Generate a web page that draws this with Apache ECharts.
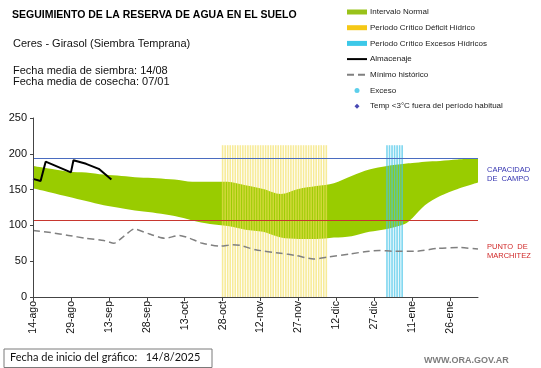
<!DOCTYPE html>
<html>
<head>
<meta charset="utf-8">
<script src="https://cdn.jsdelivr.net/npm/echarts@6/dist/echarts.min.js"></script>
<style>html,body{margin:0;padding:0;background:#fff;}#c{width:541px;height:368px;}</style>
</head>
<body>
<div id="c"></div>
<script>
// ---- Data (day index from 14-ago-2025) ----
const tickDays = [0, 15, 30, 45, 60, 75, 90, 105, 120, 135, 150, 165];
const tickLabels = ['14-ago','29-ago','13-sep','28-sep','13-oct','28-oct','12-nov','27-nov','12-dic','27-dic','11-ene','26-ene'];

const bandDays  = [0, 7, 14, 21, 28, 35, 42, 49, 56, 63, 70, 77, 84, 91, 98, 105, 112, 119, 126, 133, 140, 147, 150, 155, 161, 168, 176];
const bandUpper = [183, 179, 175, 174, 171, 169, 167, 166, 164, 161, 161, 161, 156, 151, 144, 151, 155, 159, 169, 178, 183, 186, 187, 189, 190, 192, 194];
const bandLower = [152, 146, 140, 134, 128, 124, 120, 117, 113, 107, 102, 99, 94, 91, 83, 81, 81, 83, 85, 91, 95, 102, 110, 128, 141, 151, 160];

const storageDays = [0, 3, 5, 15, 16, 21, 26, 31];
const storageVals = [165, 162, 189, 174, 191, 186, 179, 164];

const minDays = [0, 7, 14, 21, 28, 32, 36, 40, 46, 52, 58, 62, 67, 74, 79, 82, 88, 98, 104, 111, 117, 125, 133, 137, 142, 152, 160, 169, 176];
const minVals = [93, 90, 86, 82, 79, 75, 85, 95, 88, 82, 86, 82, 75, 71, 73, 72, 66, 61, 58, 53, 56, 60, 64, 65, 64, 64, 68, 69, 67];

const deficitDays = [75,76,77,78,79,80,81,82,83,84,85,86,87,88,89,90,91,92,93,94,95,96,97,98,99,100,101,102,103,104,105,106,107,108,109,110,111,112,113,114,115,116];
const excessDays = [140,141,142,143,144,145,146];
const periodTop = 212;

const fieldCapacity = 194;
const wiltingPoint = 107;

// ---- Chart ----
const chart = echarts.init(document.getElementById('c'), null, {renderer: 'canvas'});
const zip = (xs, ys) => xs.map((x, i) => [x, ys[i]]);
const FONT = 'Liberation Sans, Arial, sans-serif';

const option = {
  animation: false,
  backgroundColor: '#fff',
  textStyle: {fontFamily: FONT},
  grid: {left: 33, right: 63, top: 118, bottom: 71, containLabel: false, outerBoundsMode: 'none'},
  legend: {
    left: 346, top: 7, orient: 'vertical', padding: 0,
    itemWidth: 20, itemHeight: 5, itemGap: 5.7,
    selectedMode: false, symbolKeepAspect: true,
    textStyle: {fontSize: 8, color: '#1a1a1a', fontFamily: FONT, lineHeight: 10, padding: [0,0,0,-2]},
    data: [
      {name: 'Intervalo Normal', icon: 'rect', itemStyle: {color: '#99C21A', opacity: 1}},
      {name: 'Periodo Crítico Déficit Hídrico', icon: 'rect', itemStyle: {color: '#F5C816', opacity: 1}},
      {name: 'Periodo Crítico Excesos Hídricos', icon: 'rect', itemStyle: {color: '#3CC8E8', opacity: 1}},
      {name: 'Almacenaje', itemStyle: {opacity: 0}},
      {name: 'Mínimo histórico', itemStyle: {opacity: 0}},
      {name: 'Exceso', icon: 'path://M0,-1A1,1,0,1,1,0,1A1,1,0,1,1,0,-1Z', itemStyle: {color: '#33C3E6'}},
      {name: 'Temp <3°C fuera del período habitual', icon: 'path://M0,-1L1,0L0,1L-1,0Z', itemStyle: {color: '#1A1AA0'}}
    ]
  },
  xAxis: {
    type: 'value', min: 0, max: 176, z: 5,
    axisLine: {show: true, lineStyle: {color: '#444', width: 1}},
    axisTick: {show: true, length: 4, customValues: tickDays, lineStyle: {color: '#444'}},
    splitLine: {show: false},
    axisLabel: {
      rotate: 90, margin: 4, fontSize: 10.5, color: '#111', fontFamily: FONT,
      customValues: tickDays,
      formatter: v => { const i = tickDays.indexOf(v); return i >= 0 ? tickLabels[i] : ''; }
    }
  },
  yAxis: {
    type: 'value', min: 0, max: 250, interval: 50, z: 5,
    name: 'Milímetros', nameLocation: 'middle', nameRotate: 90, nameGap: 27,
    nameTextStyle: {fontSize: 7, color: '#222', fontFamily: FONT, padding: [0,0,0,-9]},
    axisLine: {show: true, lineStyle: {color: '#444', width: 1}},
    axisTick: {show: true, length: 3, lineStyle: {color: '#444'}},
    splitLine: {show: false},
    axisLabel: {fontSize: 11, color: '#111', margin: 6, fontFamily: FONT}
  },
  series: [
    {
      name: 'Intervalo Normal', type: 'line', symbol: 'none', silent: true,
      smooth: 0.3, lineStyle: {width: 0, opacity: 0},
      itemStyle: {color: '#99C21A'},
      areaStyle: {color: '#99CC00', opacity: 1},
      data: zip(bandDays, bandUpper), z: 1
    },
    {
      name: 'bandBase', type: 'line', symbol: 'none', silent: true,
      smooth: 0.3, lineStyle: {width: 0, opacity: 0},
      areaStyle: {color: '#ffffff', opacity: 1},
      data: zip(bandDays, bandLower), z: 1
    },
    {
      name: 'Periodo Crítico Déficit Hídrico', type: 'bar', barWidth: 1.6, barGap: '-100%', silent: true,
      itemStyle: {color: 'rgba(242,222,90,0.62)'},
      data: deficitDays.map(d => [d, periodTop]), z: 2
    },
    {
      name: 'Periodo Crítico Excesos Hídricos', type: 'bar', barWidth: 1.6, barGap: '-100%', silent: true,
      itemStyle: {color: 'rgba(70,196,232,0.7)'},
      data: excessDays.map(d => [d, periodTop]), z: 2
    },
    {
      name: 'Mínimo histórico', type: 'line', symbol: 'none', silent: true, smooth: 0.2,
      itemStyle: {color: '#808080'},
      lineStyle: {color: '#808080', width: 1.5, type: [7, 4]},
      data: zip(minDays, minVals), z: 3
    },
    {
      name: 'Almacenaje', type: 'line', symbol: 'none', silent: true,
      itemStyle: {color: '#000'},
      lineStyle: {color: '#000', width: 2},
      data: zip(storageDays, storageVals), z: 4,
      markLine: {
        silent: true, symbol: 'none', label: {show: false},
        data: [
          {yAxis: fieldCapacity, lineStyle: {color: '#4A6CC0', width: 1, type: 'solid'}},
          {yAxis: wiltingPoint, lineStyle: {color: '#C8372F', width: 1, type: 'solid'}}
        ]
      }
    },
    {name: 'Exceso', type: 'scatter', symbol: 'circle', itemStyle: {color: '#33C3E6'}, data: []},
    {name: 'Temp <3°C fuera del período habitual', type: 'scatter', symbol: 'diamond', itemStyle: {color: '#1A1AA0'}, data: []}
  ],
  graphic: [
    {type: 'text', left: 12, top: 10, style: {text: 'SEGUIMIENTO DE LA RESERVA DE AGUA EN EL SUELO', font: 'bold 10.5px ' + FONT, fill: '#000'}},
    {type: 'text', left: 13, top: 38, style: {text: 'Ceres - Girasol (Siembra Temprana)', font: '11px ' + FONT, fill: '#111'}},
    {type: 'text', left: 13, top: 65, style: {text: 'Fecha media de siembra: 14/08\nFecha media de cosecha: 07/01', font: '11px ' + FONT, lineHeight: 11.5, fill: '#111'}},
    {type: 'text', left: 487, top: 165, style: {text: 'CAPACIDAD\nDE  CAMPO', font: '7.5px ' + FONT, lineHeight: 9, fill: '#3434B0'}},
    {type: 'text', left: 487, top: 242, style: {text: 'PUNTO  DE\nMARCHITEZ', font: '7.5px ' + FONT, lineHeight: 9, fill: '#D02828'}},
    {type: 'rect', left: 3.5, top: 348.5, shape: {width: 208, height: 18.5}, style: {fill: '#fff', stroke: '#7a7a7a', lineWidth: 1}},
    {type: 'text', left: 10, top: 352, style: {text: 'Fecha de inicio del gráfico:   14/8/2025', font: '11px Lato, ' + FONT, fill: '#111'}},
    {type: 'text', left: 424, top: 356, style: {text: 'WWW.ORA.GOV.AR', font: 'bold 9px ' + FONT, fill: '#7d7d7d'}}
  ]
};
chart.setOption(option);
</script>
</body>
</html>
